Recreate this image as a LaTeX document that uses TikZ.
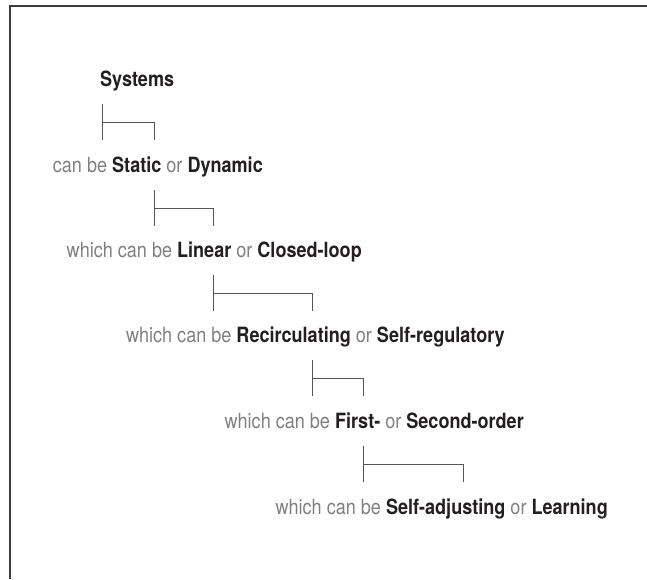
\documentclass[tikz,border=0pt]{standalone}
\usepackage{fontspec}
\setmainfont{TeX Gyre Heros}[FakeStretch=0.86]
\usepackage{xcolor}
\usetikzlibrary{positioning}

\definecolor{softgray}{HTML}{808080}
\definecolor{inkblack}{HTML}{231F20}
\definecolor{framegray}{HTML}{3C3C3C}
\definecolor{stemgray}{HTML}{555555}
\newcommand{\kw}[1]{\textcolor{inkblack}{\textbf{#1}}}

\tikzset{
  level/.style={anchor=base east, inner sep=0pt, text=softgray,
    font=\fontsize{21}{24}\selectfont},
  bracket/.style={draw=stemgray, line width=1pt},
}

\begin{document}
\begin{tikzpicture}[x=1pt,y=-1pt]
  \useasboundingbox (0,0) rectangle (647,579);
  \draw[framegray, line width=2pt] (9.5,579) -- (9.5,6) -- (647,6);

  % the levels, top to bottom
  \node[level, anchor=base west] (sys) at (100,86) {\kw{Systems}};
  \node[level] (lvlA) at (263,172) {can be \kw{Static} or \kw{Dynamic}};
  \node[level] (lvlB) at (362,257) {which can be \kw{Linear} or \kw{Closed-loop}};
  \node[level] (lvlC) at (505,342) {which can be \kw{Recirculating} or \kw{Self-regulatory}};
  \node[level] (lvlD) at (524,428) {which can be \kw{First-} or \kw{Second-order}};
  \node[level] (lvlE) at (608,514) {which can be \kw{Self-adjusting} or \kw{Learning}};

  % brackets between the levels
  \foreach \xl/\xr/\yt [count=\i] in {102/154/104, 154/213/190, 213/312/275,
                                      312/363/360, 363/463/446} {
    \coordinate (up\i) at (\xl,\yt);
    \coordinate (down\i) at (\xr,\yt+36);
    \draw[bracket] (up\i) -- ++(0,36);
    \draw[bracket] (up\i) ++(0,18) -| (down\i);
  }
\end{tikzpicture}
\end{document}
